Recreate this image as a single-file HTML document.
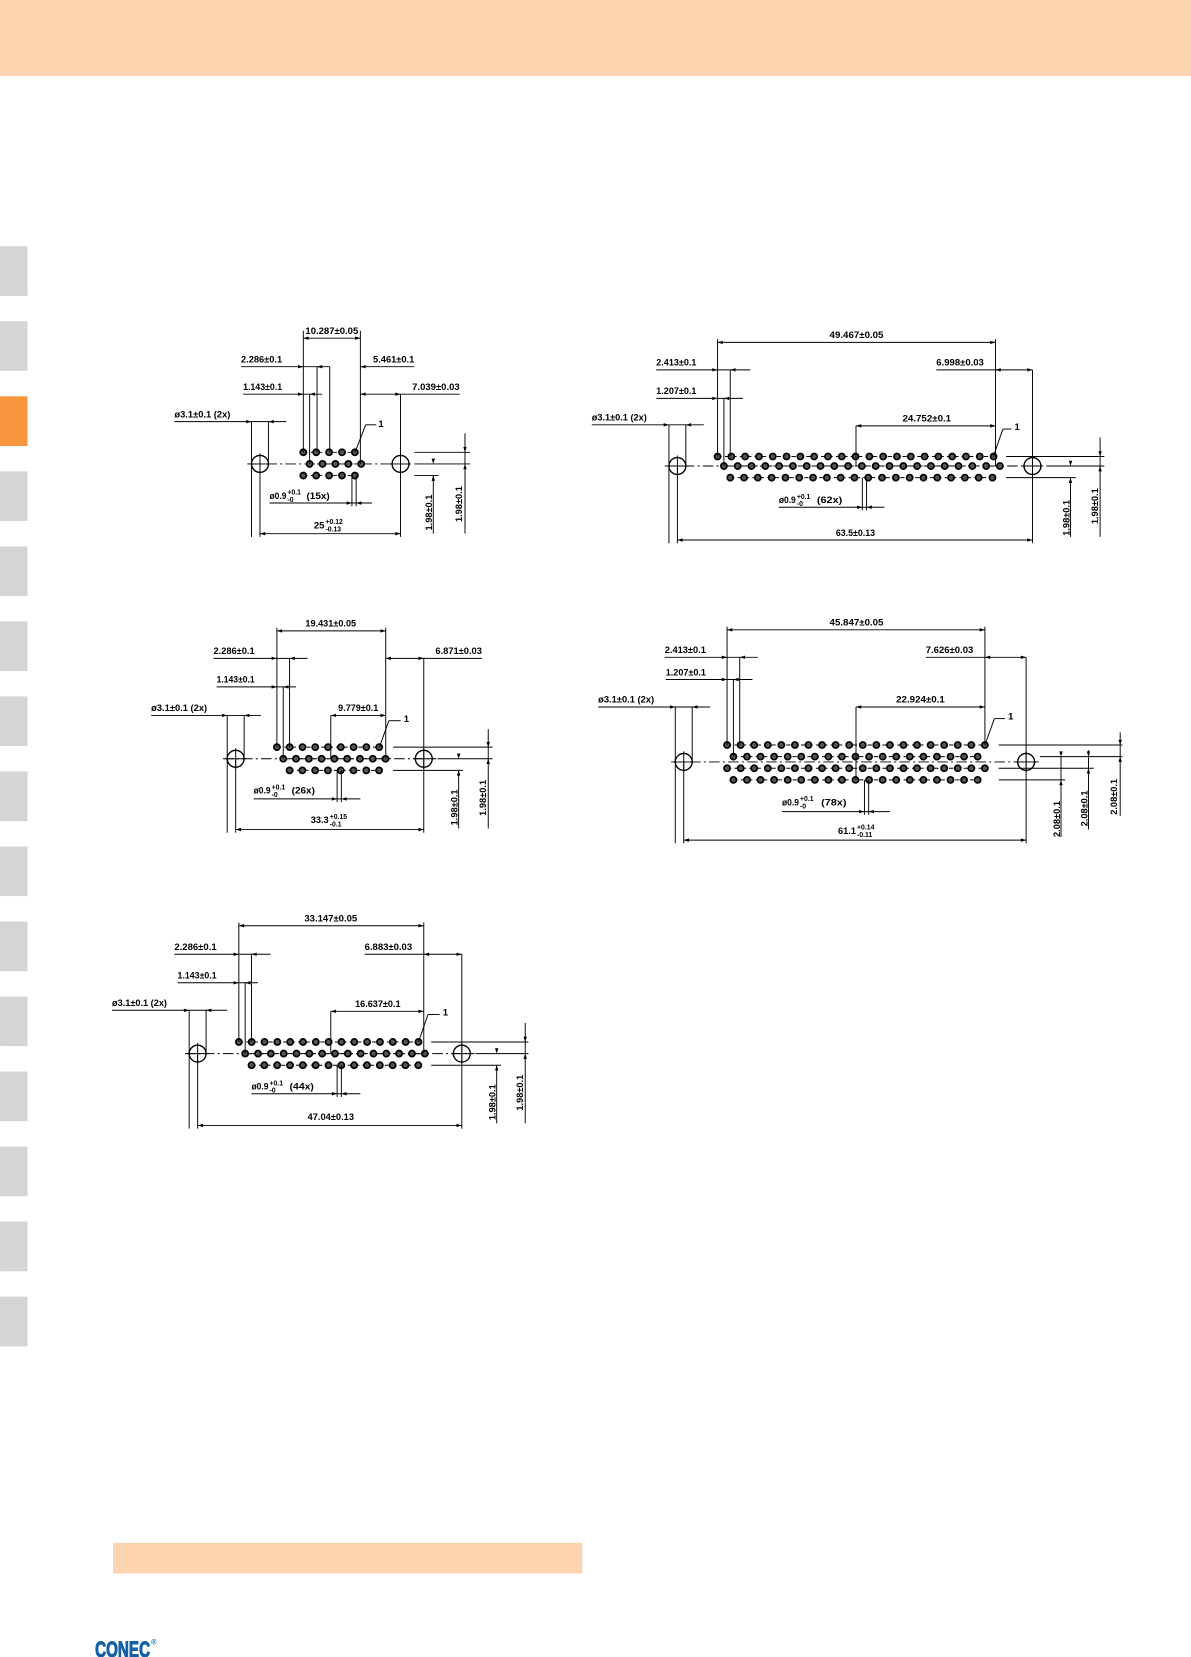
<!DOCTYPE html>
<html><head><meta charset="utf-8"><style>
html,body{margin:0;padding:0;background:#fff;}
svg{display:block}
text{font-family:"Liberation Sans Narrow","Liberation Sans",sans-serif;fill:#000;font-weight:bold}
</style></head><body>
<svg id="s" width="1191" height="1657" viewBox="0 0 1127 1568" xmlns="http://www.w3.org/2000/svg">
<rect x="0" y="0" width="1127" height="72" fill="#fcd5b0"/>
<g id="tabs"></g>
<rect x="107" y="1460" width="444" height="29" fill="#fcd5b0"/>
<text x="90" y="1568" style="font-family:'Liberation Sans',sans-serif;font-weight:bold;font-size:21px;fill:#1560a8;stroke:#1560a8;stroke-width:1" textLength="52" lengthAdjust="spacingAndGlyphs">CONEC</text>
<text x="143" y="1556" style="font-family:'Liberation Sans',sans-serif;font-size:7px;fill:#1560a8">®</text>
<g id="d" stroke="#000" stroke-width="0.9" fill="none"></g>
<g id="t"></g>
</svg>
<script>
var NS="http://www.w3.org/2000/svg",D=document.getElementById('d'),TT=document.getElementById('t'),TB=document.getElementById('tabs');
function el(p,n,a){var e=document.createElementNS(NS,n);for(var k in a)e.setAttribute(k,a[k]);p.appendChild(e);return e;}
for(var i=0;i<15;i++){var y=233+i*71;el(TB,'rect',{x:0,y:y,width:26,height:47,fill:i==2?'#f7963f':'#d4d5d7'});}
function L(x1,y1,x2,y2,st){var a={x1:x1,y1:y1,x2:x2,y2:y2};if(st)a['stroke-dasharray']=st;el(D,'line',a);}
function A(x,y,d){var p;if(d=='r')p=[x,y,x-5,y-1.6,x-5,y+1.6];if(d=='l')p=[x,y,x+5,y-1.6,x+5,y+1.6];if(d=='d')p=[x,y,x-1.6,y-5,x+1.6,y-5];if(d=='u')p=[x,y,x-1.6,y+5,x+1.6,y+5];el(D,'polygon',{points:p.join(' '),fill:'#000',stroke:'none'});}
function T(x,y,s,w,sz,rot){var a={x:x,y:y,'font-size':sz||9};if(w){a.textLength=w;a.lengthAdjust='spacingAndGlyphs';}if(rot)a.transform='rotate(-90 '+x+' '+y+')';var e=el(TT,'text',a);e.textContent=s;return e;}
function tol(x,y,base,up,dn,w){T(x,y,base,w);T(x+w+1,y-4,up,null,6.5);T(x+w+1,y+3,dn,null,6.5);}
function hole(x,y){el(D,'circle',{cx:x,cy:y,r:8,'stroke-width':1.3});L(x-10,y,x+10,y);L(x,y-10,x,y+10);}
function row(x0,n,p,y){L(x0,y,x0+(n-1)*p,y,'4 3');for(var i=0;i<n;i++){el(D,'circle',{cx:x0+i*p,cy:y,r:2.9,'stroke-width':1.6,fill:'#555'});}}
function arrowsIn(a,b,y){A(a,y,'l');A(b,y,'r');}

// ---------- Drawing 1 (15x)
(function(){var cy=439,h1=246,h2=379,p=12.2;
hole(h1,cy);hole(h2,cy);L(h1-12,cy,h2+12,cy,'10 3 2 3');
row(287,5,p,428);row(293,5,p,cy);row(287,5,p,450);
L(287,313,287,428);L(341,313,341,439);L(300,347,300,428);L(312,347,312,428);L(293,373,293,439);
L(287,320,341,320);arrowsIn(287,341,320);T(289,316,'10.287±0.05',50);
L(228,347,312,347);A(287,347,'r');A(300,347,'l');T(228,343,'2.286±0.1',39);
L(341,347,392,347);A(341,347,'l');T(353,343,'5.461±0.1',39);
L(230,373,305,373);A(287,373,'r');A(293,373,'l');T(230,369,'1.143±0.1',37);
L(341,373,435,373);A(341,373,'l');A(379,373,'r');L(379,373,379,508);T(390,369,'7.039±0.03',45);
L(165,399,271,399);A(238,399,'r');A(254,399,'l');L(238,399,238,508);L(254,399,254,439);T(165,395,'ø3.1±0.1 (2x)',53);
L(336,428,346,402);L(346,402,356,402);T(358,404,'1',null,9);
L(392,428,445,428);L(392,450,415,450);L(392,439,445,439);
L(410,450,410,505);A(410,450,'u');A(410,439,'d');L(440,410,440,505);A(440,428,'d');A(440,439,'u');
T(409,502,'1.98±0.1',34,9,1);T(437,494,'1.98±0.1',34,9,1);
L(255,476,352,476);L(333,450,333,479);L(337,450,337,479);A(333,476,'r');A(337,476,'l');tol(255,472,'ø0.9',"+0.1","-0",16);T(290,472,'(15x)',22);
L(246,505,379,505);arrowsIn(246,379,505);L(246,439,246,508);tol(297,500,'25',"+0.12","-0.13",10);
})();

// ---------- Drawing 2 (26x)
(function(){var cy=718,h1=223,h2=401,p=12.1;
hole(h1,cy);hole(h2,cy);L(h1-12,cy,h2+12,cy,'10 3 2 3');
row(262,9,p,707);row(268,9,p,cy);row(274,8,p,729);
L(262,594,262,707);L(365,594,365,718);L(274,623,274,707);L(268,650,268,718);L(313,677,313,718);
L(262,597,365,597);arrowsIn(262,365,597);T(289,593,'19.431±0.05',48);
L(202,623,291,623);A(262,623,'r');A(274,623,'l');T(202,619,'2.286±0.1',39);
L(365,623,456,623);A(365,623,'l');A(401,623,'r');L(401,623,401,788);T(412,619,'6.871±0.03',44);
L(205,650,280,650);A(262,650,'r');A(268,650,'l');T(205,646,'1.143±0.1',36);
L(313,677,365,677);arrowsIn(313,365,677);T(320,673,'9.779±0.1',38);
L(143,677,247,677);A(215,677,'r');A(231,677,'l');L(215,677,215,788);L(231,677,231,718);T(143,673,'ø3.1±0.1 (2x)',53);
L(359,707,368,682);L(368,682,379,682);T(382,683,'1');
L(372,707,466,707);L(414,718,466,718);L(372,729,438,729);
L(434,729,434,784);A(434,729,'u');A(434,718,'d');L(462,690,462,784);A(462,707,'d');A(462,718,'u');
T(433,781,'1.98±0.1',34,9,1);T(460,772,'1.98±0.1',34,9,1);
L(240,756,341,756);L(319,729,319,759);L(323,729,323,759);A(319,756,'r');A(323,756,'l');tol(240,751,'ø0.9',"+0.1","-0",16);T(276,751,'(26x)',22);
L(223,785,401,785);arrowsIn(223,401,785);L(223,718,223,788);tol(294,779,'33.3',"+0.15","-0.1",17);
})();

// ---------- Drawing 3 (44x)
(function(){var cy=997,h1=187,h2=437,p=12.14;
hole(h1,cy);hole(h2,cy);L(h1-12,cy,h2+12,cy,'10 3 2 3');
row(226,15,p,986);row(232,15,p,cy);row(238,14,p,1008);
L(226,873,226,986);L(401,873,401,997);L(238,903,238,986);L(232,930,232,997);L(313,957,313,997);
L(226,876,401,876);arrowsIn(226,401,876);T(288,872,'33.147±0.05',50);
L(165,903,256,903);A(226,903,'r');A(238,903,'l');T(165,899,'2.286±0.1',40);
L(345,903,437,903);A(401,903,'l');A(437,903,'r');L(437,903,437,1068);T(345,899,'6.883±0.03',45);
L(168,930,244,930);A(226,930,'r');A(232,930,'l');T(168,926,'1.143±0.1',37);
L(313,957,401,957);arrowsIn(313,401,957);T(336,953,'16.637±0.1',43);
L(106,956,215,956);A(179,956,'r');A(195,956,'l');L(179,956,179,1068);L(195,956,195,997);T(106,952,'ø3.1±0.1 (2x)',52);
L(396,986,405,960);L(405,960,416,960);T(419,961,'1');
L(408,986,500,986);L(450,997,500,997);L(408,1008,474,1008);
L(470,1008,470,1063);A(470,1008,'u');A(470,997,'d');L(497,968,497,1063);A(497,986,'d');A(497,997,'u');
T(469,1060,'1.98±0.1',34,9,1);T(495,1051,'1.98±0.1',34,9,1);
L(238,1035,341,1035);L(319,1008,319,1038);L(323,1008,323,1038);A(319,1035,'r');A(323,1035,'l');tol(238,1031,'ø0.9',"+0.1","-0",16);T(274,1031,'(44x)',23);
L(187,1065,437,1065);arrowsIn(187,437,1065);L(187,997,187,1068);T(291,1060,'47.04±0.13',44);
})();

// ---------- Drawing 4 (62x)
(function(){var cy=441,h1=641,h2=977,p=13.06;
hole(h1,cy);hole(h2,cy);L(h1-12,cy,h2+12,cy,'10 3 2 3');
row(679,21,p,432);row(685,21,p,cy);row(691,20,p,452);
L(679,321,679,432);L(942,321,942,441);L(691,350,691,432);L(685,377,685,441);L(810,403,810,441);
L(679,324,942,324);arrowsIn(679,942,324);T(785,320,'49.467±0.05',51);
L(621,350,710,350);A(679,350,'r');A(691,350,'l');T(621,346,'2.413±0.1',38);
L(886,350,977,350);A(942,350,'l');A(977,350,'r');L(977,350,977,514);T(886,346,'6.998±0.03',45);
L(621,377,703,377);A(679,377,'r');A(685,377,'l');T(621,373,'1.207±0.1',38);
L(810,403,942,403);arrowsIn(810,942,403);T(854,399,'24.752±0.1',46);
L(560,402,666,402);A(633,402,'r');A(649,402,'l');L(633,402,633,514);L(649,402,649,441);T(560,398,'ø3.1±0.1 (2x)',52);
L(940,432,949,406);L(949,406,957,406);T(960,407,'1');
L(952,432,1045,432);L(990,441,1045,441);L(952,452,1018,452);
L(1013,452,1013,508);A(1013,452,'u');A(1013,441,'d');L(1041,414,1041,508);A(1041,432,'d');A(1041,441,'u');
T(1012,507,'1.98±0.1',34,9,1);T(1039,496,'1.98±0.1',34,9,1);
L(737,480,837,480);L(816,452,816,483);L(820,452,820,483);A(816,480,'r');A(820,480,'l');tol(737,476,'ø0.9',"+0.1","-0",16);T(773,476,'(62x)',24);
L(641,511,977,511);arrowsIn(641,977,511);L(641,441,641,514);T(791,507,'63.5±0.13',37);
})();

// ---------- Drawing 5 (78x)
(function(){var cy=721,h1=647,h2=971,p=12.84;
hole(h1,cy);hole(h2,cy);L(h1-12,cy,h2+12,cy,'10 3 2 3');
row(688,20,p,705);row(694,19,p,716);row(688,20,p,727);row(694,19,p,738);
L(688,593,688,705);L(932,593,932,705);L(700,622,700,705);L(694,643,694,716);L(810,669,810,738);
L(688,596,932,596);arrowsIn(688,932,596);T(785,592,'45.847±0.05',51);
L(629,622,717,622);A(688,622,'r');A(700,622,'l');T(629,618,'2.413±0.1',39);
L(876,622,971,622);A(932,622,'l');A(971,622,'r');L(971,622,971,798);T(876,618,'7.626±0.03',45);
L(630,643,712,643);A(688,643,'r');A(694,643,'l');T(630,639,'1.207±0.1',38);
L(810,669,932,669);arrowsIn(810,932,669);T(848,665,'22.924±0.1',46);
L(566,669,672,669);A(639,669,'r');A(655,669,'l');L(639,669,639,798);L(655,669,655,721);T(566,665,'ø3.1±0.1 (2x)',53);
L(932,705,941,680);L(941,680,951,680);T(954,681,'1');
L(945,705,1062,705);L(984,716,1062,716);L(945,727,1035,727);L(945,738,1008,738);
L(1004,716,1004,792);A(1004,738,'u');A(1004,716,'d');
L(1030,710,1030,785);A(1030,727,'u');A(1030,716,'d');
L(1060,693,1060,772);A(1060,705,'d');A(1060,716,'u');
T(1003,792,'2.08±0.1',34,9,1);T(1029,782,'2.08±0.1',34,9,1);T(1057,771,'2.08±0.1',34,9,1);
L(740,768,842,768);L(818,738,818,771);L(822,738,822,771);A(818,768,'r');A(822,768,'l');tol(740,762,'ø0.9',"+0.1","-0",16);T(777,762,'(78x)',24);
L(647,795,971,795);arrowsIn(647,971,795);L(647,721,647,798);tol(793,789,'61.1',"+0.14","-0.11",17);
})();
</script>
</body></html>
